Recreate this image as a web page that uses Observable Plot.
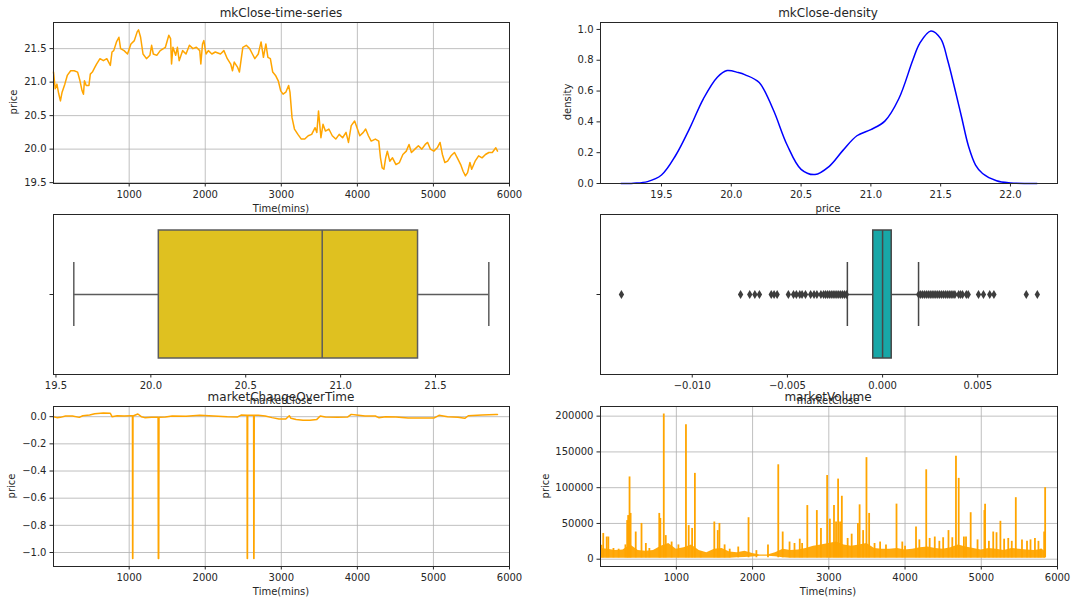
<!DOCTYPE html>
<html><head><meta charset="utf-8">
<script src="https://cdn.jsdelivr.net/npm/d3@7"></script>
<script src="https://cdn.jsdelivr.net/npm/@observablehq/plot@0.6"></script>
<style>
body{margin:0;background:#fff;}
#root{position:relative;width:1076px;height:604px;overflow:hidden;font-family:"DejaVu Sans",sans-serif;color:#262626;}
.tx{position:absolute;white-space:nowrap;line-height:1;transform:translate(-50%,-50%);}
</style></head>
<body><div id="root"></div>
<script>
// ---------- data ----------
const timeTicks = [1000, 2000, 3000, 4000, 5000, 6000];

// mkClose time series (minutes, price)
const closeT = [5, 28, 50, 73, 96, 118, 154, 186, 231, 277,
  322, 353, 381, 399, 412, 435, 471, 489, 516, 548,
  571, 616, 661, 706, 752, 774, 797, 833, 865, 887,
  933, 978, 1023, 1068, 1105, 1123, 1150, 1182, 1227, 1272,
  1295, 1317, 1363, 1408, 1476, 1521, 1544, 1557, 1575, 1611,
  1634, 1657, 1702, 1747, 1792, 1838, 1883, 1928, 1942, 1964,
  1982, 2010, 2041, 2087, 2132, 2200, 2245, 2290, 2335, 2358,
  2381, 2426, 2449, 2494, 2539, 2584, 2620, 2652, 2697, 2734,
  2765, 2797, 2824, 2856, 2887, 2924, 2960, 2992, 3023, 3059,
  3096, 3114, 3141, 3173, 3218, 3263, 3308, 3354, 3399, 3444,
  3467, 3489, 3521, 3548, 3580, 3625, 3670, 3716, 3761, 3806,
  3851, 3883, 3919, 3964, 4001, 4032, 4078, 4109, 4145, 4182,
  4236, 4281, 4304, 4326, 4349, 4372, 4394, 4426, 4462, 4507,
  4553, 4598, 4643, 4679, 4711, 4756, 4802, 4847, 4892, 4924,
  4960, 5005, 5050, 5087, 5118, 5150, 5186, 5231, 5277, 5322,
  5358, 5390, 5421, 5449, 5480, 5503, 5548, 5594, 5639, 5684,
  5729, 5774, 5820, 5842];
const closePrice = [21.15, 20.9, 20.97, 20.83, 20.72, 20.85, 20.97, 21.1, 21.17, 21.17,
  21.15, 21.02, 20.87, 20.82, 21.02, 20.95, 20.95, 21.12, 21.15, 21.22,
  21.27, 21.35, 21.32, 21.35, 21.25, 21.45, 21.47, 21.6, 21.67, 21.5,
  21.47, 21.42, 21.57, 21.62, 21.75, 21.78, 21.67, 21.42, 21.35, 21.4,
  21.55, 21.42, 21.4, 21.47, 21.52, 21.7, 21.65, 21.27, 21.52, 21.4,
  21.52, 21.32, 21.47, 21.42, 21.55, 21.5, 21.52, 21.47, 21.27, 21.57,
  21.62, 21.42, 21.47, 21.42, 21.45, 21.42, 21.47, 21.35, 21.27, 21.17,
  21.3, 21.22, 21.15, 21.52, 21.55, 21.5, 21.42, 21.35, 21.42, 21.6,
  21.37, 21.57, 21.37, 21.35, 21.15, 21.1, 21.02, 20.87, 20.82, 20.85,
  20.95, 20.85, 20.47, 20.3, 20.22, 20.15, 20.15, 20.2, 20.22, 20.32,
  20.25, 20.57, 20.17, 20.37, 20.27, 20.3, 20.2, 20.15, 20.22, 20.17,
  20.25, 20.1, 20.35, 20.42, 20.3, 20.2, 20.25, 20.3, 20.2, 20.12,
  20.15, 20.12, 19.87, 19.72, 19.7, 19.87, 19.97, 19.82, 19.87, 19.77,
  19.8, 19.92, 19.97, 20.07, 19.95, 20.0, 20.05, 20.0, 20.07, 20.1,
  20.0, 19.97, 20.02, 20.1, 19.92, 19.8, 19.82, 19.9, 19.95, 19.85,
  19.77, 19.67, 19.6, 19.65, 19.8, 19.7, 19.82, 19.9, 19.87, 19.92,
  19.95, 19.95, 20.02, 19.97];
const closeTicks = [19.5, 20.0, 20.5, 21.0, 21.5];

// density of mkClose
const densX = [19.21, 19.3, 19.4, 19.5, 19.6, 19.7, 19.8, 19.9, 19.97, 20.05,
  20.1, 20.2, 20.3, 20.4, 20.5, 20.6, 20.7, 20.8, 20.9, 21.0,
  21.1, 21.2, 21.3, 21.35, 21.43, 21.5, 21.55, 21.6, 21.65, 21.7,
  21.75, 21.8, 21.9, 22.0, 22.19];
const densY = [0.0, 0.002, 0.012, 0.055, 0.18, 0.355, 0.55, 0.69, 0.733, 0.72,
  0.705, 0.655, 0.48, 0.25, 0.092, 0.058, 0.11, 0.215, 0.31, 0.35,
  0.405, 0.55, 0.8, 0.91, 0.99, 0.94, 0.8, 0.62, 0.43, 0.24,
  0.12, 0.065, 0.018, 0.004, 0.0];
const densXTicks = [19.5, 20.0, 20.5, 21.0, 21.5, 22.0];
const densYTicks = [0.0, 0.2, 0.4, 0.6, 0.8, 1.0];

// boxplot of mkClose
const closeBox = {lo: 19.594, q1: 20.042, med: 20.903, q3: 21.408, hi: 21.781};

// boxplot of market change
const chgBox = {lo: -0.00185, q1: -0.00049, med: 0.0, q3: 0.00048, hi: 0.00189};
const chgOutliers = [-0.01372, -0.00746, -0.00698, -0.00671, -0.00647, -0.00585, -0.0057, -0.00554,
  -0.00495, -0.00468, -0.00453, -0.00435, -0.00423, -0.00405, -0.00378, -0.0036, -0.00345,
  -0.00324, -0.0031, -0.003, -0.0029, -0.0028, -0.0027, -0.0026, -0.0025, -0.0024, -0.0023,
  -0.0022, -0.0021, -0.002, -0.0019,
  0.0019, 0.002, 0.0021, 0.0022, 0.0023, 0.0024, 0.0025, 0.0026, 0.0027, 0.0028, 0.0029,
  0.003, 0.0031, 0.0032, 0.0033, 0.0034, 0.0035, 0.0036, 0.0037, 0.0038, 0.004, 0.0041,
  0.0042, 0.0044, 0.0045, 0.00504, 0.0053, 0.00563, 0.00585, 0.00755, 0.00813];
const chgTicks = [-0.010, -0.005, 0.000, 0.005];

// market change over time
const chgT = [5, 50, 96, 163, 254, 344, 390, 480, 548, 661,
  752, 774, 842, 933, 1023, 1043, 1045, 1048, 1050, 1114,
  1159, 1204, 1295, 1380, 1383, 1388, 1392, 1476, 1566, 1747,
  1928, 2109, 2290, 2426, 2471, 2550, 2552, 2555, 2558, 2636,
  2638, 2641, 2644, 2697, 2788, 2878, 2969, 3059, 3105, 3127,
  3195, 3286, 3376, 3467, 3512, 3580, 3738, 3874, 3919, 3987,
  4100, 4236, 4281, 4372, 4507, 4666, 4824, 5005, 5073, 5186,
  5322, 5412, 5458, 5639, 5820, 5842];
const chgV = [0, -0.007, -0.005, 0.005, 0.005, -0.005, 0.007, 0.012, 0.022, 0.027,
  0.025, 0.0, 0.007, 0.005, 0.007, 0.006, -1.045, -1.045, 0.005, 0.02,
  0.0, -0.007, -0.005, -0.005, -1.045, -1.045, -0.004, -0.002, 0.005, 0.003,
  0.01, 0.005, 0.0, -0.002, 0.012, 0.011, -1.045, -1.045, 0.011, 0.011,
  -1.045, -1.045, 0.01, 0.01, 0.005, -0.007, -0.017, -0.017, 0.007, -0.012,
  -0.02, -0.027, -0.027, -0.02, 0.005, -0.002, -0.005, -0.002, 0.017, 0.012,
  0.005, 0.005, -0.007, 0.0, -0.002, -0.01, -0.01, -0.01, 0.01, 0.0,
  -0.005, -0.012, 0.007, 0.012, 0.017, 0.017];
const chgYTicks = [0.0, -0.2, -0.4, -0.6, -0.8, -1.0];

// market volume: dense base band + spikes
const bandT = [5, 100, 200, 300, 400, 500, 600, 700, 800, 900,
  1000, 1100, 1200, 1300, 1400, 1500, 1600, 1700, 1800, 1900,
  2000, 2100, 2200, 2300, 2400, 2500, 2600, 2700, 2800, 2900,
  3000, 3100, 3200, 3300, 3400, 3500, 3600, 3700, 3800, 3900,
  4000, 4100, 4200, 4300, 4400, 4500, 4600, 4700, 4800, 4900,
  5000, 5100, 5200, 5300, 5400, 5500, 5600, 5700, 5800, 5845];
const bandLo = [1500, 1500, 1500, 1500, 1500, 1500, 1500, 1500, 1500, 1500,
  1500, 1500, 1500, 1500, 1500, 1500, 1500, 1500, 2000, 2500,
  3000, 4000, 4000, 3500, 2000, 1500, 1500, 1500, 1500, 1500,
  1500, 1500, 1500, 1500, 1500, 1500, 1500, 1500, 1500, 1500,
  1500, 1500, 1500, 1500, 1500, 1500, 1500, 1500, 1500, 1500,
  1500, 1500, 1500, 1500, 1500, 1500, 1500, 1500, 1500, 1500];
const bandHi = [15000, 14000, 12000, 13000, 20000, 12000, 11000, 12000, 18000, 22000,
  14000, 16000, 20000, 12000, 9000, 14000, 15000, 10000, 9000, 11000,
  8000, 6000, 6000, 9000, 14000, 12000, 13000, 15000, 18000, 20000,
  22000, 24000, 20000, 18000, 20000, 22000, 15000, 14000, 14000, 15000,
  13000, 14000, 16000, 17000, 15000, 14000, 16000, 20000, 17000, 15000,
  13000, 15000, 14000, 12000, 15000, 14000, 13000, 12000, 14000, 10000];
const spikeT = [18, 41, 86, 108, 175, 243, 332, 355, 368, 386,
  400, 467, 543, 600, 646, 776, 790, 835, 861, 938,
  1027, 1126, 1162, 1207, 1243, 1319, 1498, 1543, 1565, 1633,
  1700, 1812, 1947, 2050, 2202, 2337, 2395, 2485, 2550, 2619,
  2650, 2718, 2843, 2897, 2978, 3014, 3068, 3095, 3122, 3148,
  3171, 3247, 3300, 3382, 3404, 3450, 3494, 3529, 3600, 3673,
  3750, 3888, 3964, 4000, 4144, 4188, 4278, 4323, 4390, 4450,
  4500, 4570, 4620, 4668, 4704, 4772, 4800, 4861, 4951, 5041,
  5050, 5100, 5157, 5200, 5251, 5300, 5354, 5400, 5453, 5534,
  5600, 5646, 5704, 5750, 5780, 5825, 5838];
const spikeV = [19500, 36000, 31000, 31000, 15000, 14000, 20000, 54000, 61000, 115000,
  64000, 38000, 50000, 22000, 15000, 64000, 57000, 203000, 33000, 24000,
  20000, 188000, 47000, 43000, 120000, 10000, 52000, 40000, 50000, 20000,
  14000, 17000, 58000, 12000, 20000, 132000, 38000, 24000, 22000, 28000,
  22000, 75000, 68000, 43000, 117000, 56000, 75000, 52000, 112000, 52000,
  88000, 29000, 35000, 50000, 76000, 40000, 142000, 64000, 22000, 24000,
  20000, 77000, 24000, 18000, 45000, 27000, 125000, 29000, 31000, 25000,
  30000, 40000, 30000, 144000, 113000, 31000, 31000, 65000, 27000, 68000,
  77000, 25000, 38000, 37000, 53000, 28000, 29000, 25000, 86000, 27000,
  25000, 27000, 29000, 25000, 14000, 38000, 100000];
const volTicks = [0, 50000, 100000, 150000, 200000];

// ---------- drawing ----------
const root = document.getElementById("root");
const M = {l: 55, r: 12, t: 10, b: 28};
const ORANGE = "#ffa500";
const INK = "#262626";
const GRID = "#b0b0b0";
const minus = s => s.replace("-", "\u2212");
const f1 = d => minus(d.toFixed(1));
const f3 = d => minus(d.toFixed(3));
const fi = d => String(d);

function panel(frame, xs, ys, marks) {
  const [x0, y0, x1, y1] = frame;
  const svg = Plot.plot({
    width: x1 - x0 + M.l + M.r, height: y1 - y0 + M.t + M.b,
    marginLeft: M.l, marginRight: M.r, marginTop: M.t, marginBottom: M.b,
    style: {fontFamily: "DejaVu Sans, sans-serif", fontSize: "10px", background: "transparent", color: INK, overflow: "visible"},
    x: {...xs, label: null}, y: {...ys, label: null},
    marks
  });
  svg.style.position = "absolute";
  svg.style.left = (x0 - M.l) + "px";
  svg.style.top = (y0 - M.t) + "px";
  root.appendChild(svg);
}
function axes(xt, xf, yt, yf) {
  return [
    Plot.axisX({ticks: xt, tickFormat: xf, tickSize: 3.5, tickPadding: 3.5, label: null}),
    Plot.axisY({ticks: yt, tickFormat: yf, tickSize: 3.5, tickPadding: 3.5, label: null})
  ];
}
const frameMark = () => Plot.frame({stroke: INK, strokeWidth: 1});
const grids = (xt, yt) => [
  Plot.gridX({ticks: xt, stroke: GRID, strokeOpacity: 1, strokeWidth: 0.8}),
  Plot.gridY({ticks: yt, stroke: GRID, strokeOpacity: 1, strokeWidth: 0.8})
];

// Panel 1: time series
const closeRows = closeT.map((t, i) => ({t, p: closePrice[i]}));
panel([53, 22, 509, 183], {domain: [5, 6000]}, {domain: [19.487, 21.89]}, [
  ...grids(timeTicks, closeTicks),
  Plot.line(closeRows, {x: "t", y: "p", stroke: ORANGE, strokeWidth: 1.5}),
  ...axes(timeTicks, fi, closeTicks, f1),
  frameMark()
]);

// Panel 2: density
const densRows = densX.map((x, i) => ({x, y: densY[i]}));
panel([600, 22, 1057, 183], {domain: [19.063, 22.337]}, {domain: [0, 1.045]}, [
  Plot.line(densRows, {x: "x", y: "y", stroke: "#0000ff", strokeWidth: 1.5, curve: "catmull-rom"}),
  ...axes(densXTicks, f1, densYTicks, f1),
  frameMark()
]);

// box helper
function boxMarks(s, fill, line) {
  const d = [s];
  return [
    Plot.ruleY(d, {y: () => 0, x1: "lo", x2: "q1", stroke: line, strokeWidth: 1.5}),
    Plot.ruleY(d, {y: () => 0, x1: "q3", x2: "hi", stroke: line, strokeWidth: 1.5}),
    Plot.ruleX(d, {x: "lo", y1: () => -0.2, y2: () => 0.2, stroke: line, strokeWidth: 1.5}),
    Plot.ruleX(d, {x: "hi", y1: () => -0.2, y2: () => 0.2, stroke: line, strokeWidth: 1.5}),
    Plot.rect(d, {x1: "q1", x2: "q3", y1: () => -0.4, y2: () => 0.4, fill, stroke: line, strokeWidth: 1.5}),
    Plot.ruleX(d, {x: "med", y1: () => -0.4, y2: () => 0.4, stroke: line, strokeWidth: 1.5})
  ];
}

// Panel 3: box of close
panel([53, 214, 509, 374], {domain: [19.487, 21.89]}, {domain: [-0.5, 0.5]}, [
  ...boxMarks(closeBox, "#dfc120", "#5c5c5c"),
  ...axes(closeTicks, f1, [0], () => ""),
  frameMark()
]);

// Panel 4: box of change
panel([600, 214, 1057, 374], {domain: [-0.01482, 0.00919]}, {domain: [-0.5, 0.5]}, [
  ...boxMarks(chgBox, "#18a7a7", "#474747"),
  Plot.dot(chgOutliers, {x: d => d, y: () => 0, symbol: "diamond", r: 2.8, fill: "#3d3d3d", stroke: "none"}),
  ...axes(chgTicks, f3, [0], () => ""),
  frameMark()
]);

// Panel 5: change over time
const chgRows = chgT.map((t, i) => ({t, v: chgV[i]}));
panel([53, 406, 509, 566], {domain: [5, 6000]}, {domain: [-1.103, 0.075]}, [
  ...grids(timeTicks, chgYTicks),
  Plot.line(chgRows, {x: "t", y: "v", stroke: ORANGE, strokeWidth: 1.5}),
  ...axes(timeTicks, fi, chgYTicks, f1),
  frameMark()
]);

// Panel 6: volume
const bandRows = bandT.map((t, i) => ({t, lo: bandLo[i], hi: bandHi[i]}));
const spikeRows = spikeT.map((t, i) => ({t, v: spikeV[i]}));
panel([600, 406, 1057, 566], {domain: [5, 6000]}, {domain: [-10200, 213500]}, [
  ...grids(timeTicks, volTicks),
  Plot.areaY(bandRows, {x: "t", y1: "lo", y2: "hi", fill: ORANGE, fillOpacity: 0.95}),
  Plot.ruleX(spikeRows, {x: "t", y1: () => 2000, y2: "v", stroke: ORANGE, strokeWidth: 1.8}),
  ...axes(timeTicks, fi, volTicks, fi),
  frameMark()
]);

// ---------- texts ----------
function txt(s, cx, cy, size, rot) {
  const d = document.createElement("div");
  d.className = "tx";
  d.textContent = s;
  d.style.left = cx + "px";
  d.style.top = cy + "px";
  d.style.fontSize = size + "px";
  if (rot) d.style.transform = "translate(-50%,-50%) rotate(-90deg)";
  root.appendChild(d);
}
txt("Time(mins)", 281, 209, 10);
txt("price", 828, 209, 10);
txt("price", 14, 102, 10, true);
txt("density", 568, 102, 10, true);
txt("marketClose", 281, 401, 10);
txt("marketClose", 828, 401, 10);
txt("price", 12, 486, 10, true);
txt("price", 546, 486, 10, true);
txt("Time(mins)", 281, 592, 10);
txt("Time(mins)", 828, 592, 10);
txt("mkClose-time-series", 281, 13, 12);
txt("mkClose-density", 828, 13, 12);
txt("marketChangeOverTime", 281, 397, 12);
txt("marketVolume", 828, 397, 12);
</script>
</body></html>
